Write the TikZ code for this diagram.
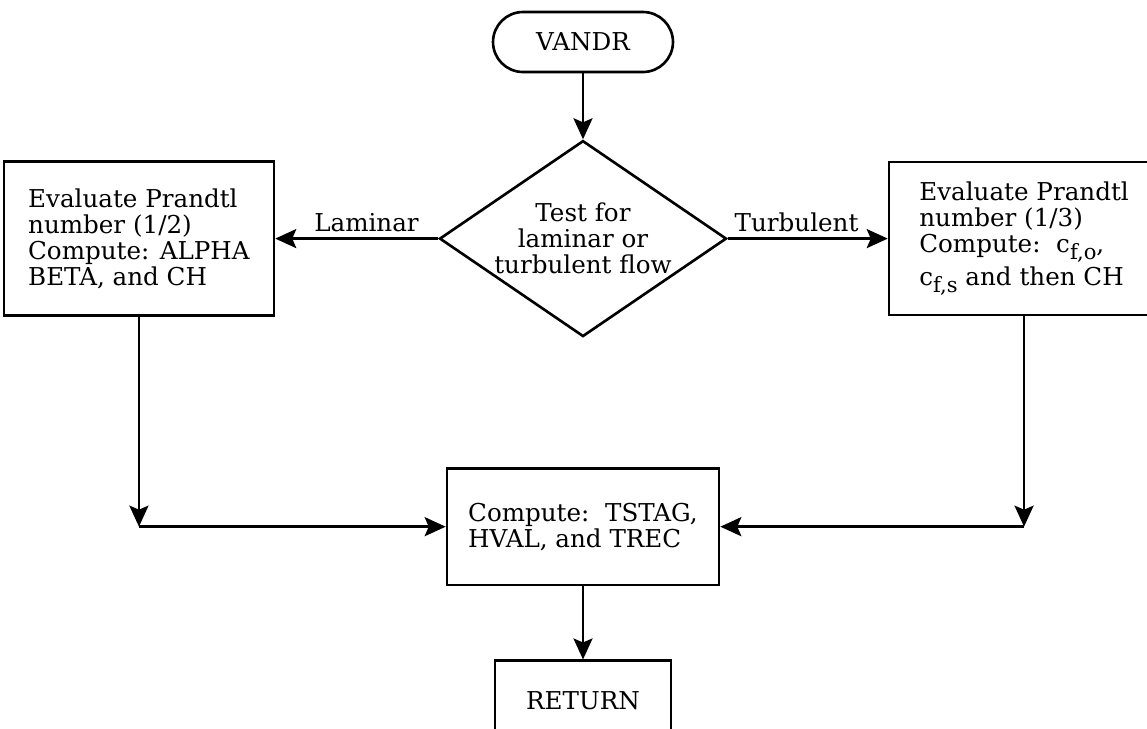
\documentclass[tikz,border=0pt]{standalone}
\usepackage{fontspec}
\setmainfont{DejaVu Serif}
\usetikzlibrary{
	positioning,
	arrows.meta,
	shapes.geometric
}
\newcommand{\cfsub}[1]{c\raisebox{-0.55ex}{\fontsize{12}{12}\selectfont f,#1}}

\begin{document}
\begin{tikzpicture}[x=0.02cm,y=-0.02cm,node distance=1.3cm,
	every node/.style={font=\fontsize{14}{14.8}\selectfont},
	line width=1.5pt,
	term/.style={draw,rounded corners=0.6cm,minimum width=3.6cm,minimum height=1.2cm},
	decision/.style={draw,diamond,aspect=1.5,inner sep=0pt,minimum width=5.74cm,minimum height=3.92cm,align=center},
	block/.style={draw,rectangle,align=left},
	flow/.style={-{Stealth[length=4.2mm,width=3.8mm,inset=0.8mm]}}]
	\useasboundingbox (0,0) rectangle (1147,728);

	\node[term] (vandr) at (583,42) {VANDR};
	\node[decision,below=1.32cm of vandr] (test) {Test for\\laminar or\\turbulent flow};
	\node[block,left=3.26cm of test,minimum width=5.4cm,minimum height=3.08cm] (lam) {Evaluate Prandtl\\number (1/2)\\Compute: ALPHA\\BETA, and CH};
	\node[block,right=3.2cm of test,minimum width=5.4cm,minimum height=3.06cm] (turb) {Evaluate Prandtl\\number (1/3)\\Compute:\ \ \cfsub{o},\\[2pt]\cfsub{s} and then CH};
	\node[block,below=2.58cm of test,minimum width=5.44cm,minimum height=2.34cm] (temps) {Compute:\ \ TSTAG,\\HVAL, and TREC};
	\node[block,below=1.46cm of temps,minimum width=3.52cm,minimum height=1.6cm] (ret) {RETURN};
	\coordinate (ljoin) at (lam.south |- temps.west);
	\coordinate (rjoin) at (turb.south |- temps.east);

	\draw[flow] (vandr) -- (test);
	\draw[flow] (test) -- node[above,pos=0.44]{Laminar} (lam);
	\draw[flow] (test) -- node[above,pos=0.43]{Turbulent} (turb);
	\draw[flow] (lam) -- (ljoin);
	\draw[flow] (ljoin) -- (temps);
	\draw[flow] (turb) -- (rjoin);
	\draw[flow] (rjoin) -- (temps);
	\draw[flow] (temps) -- (ret);

\end{tikzpicture}
\end{document}
